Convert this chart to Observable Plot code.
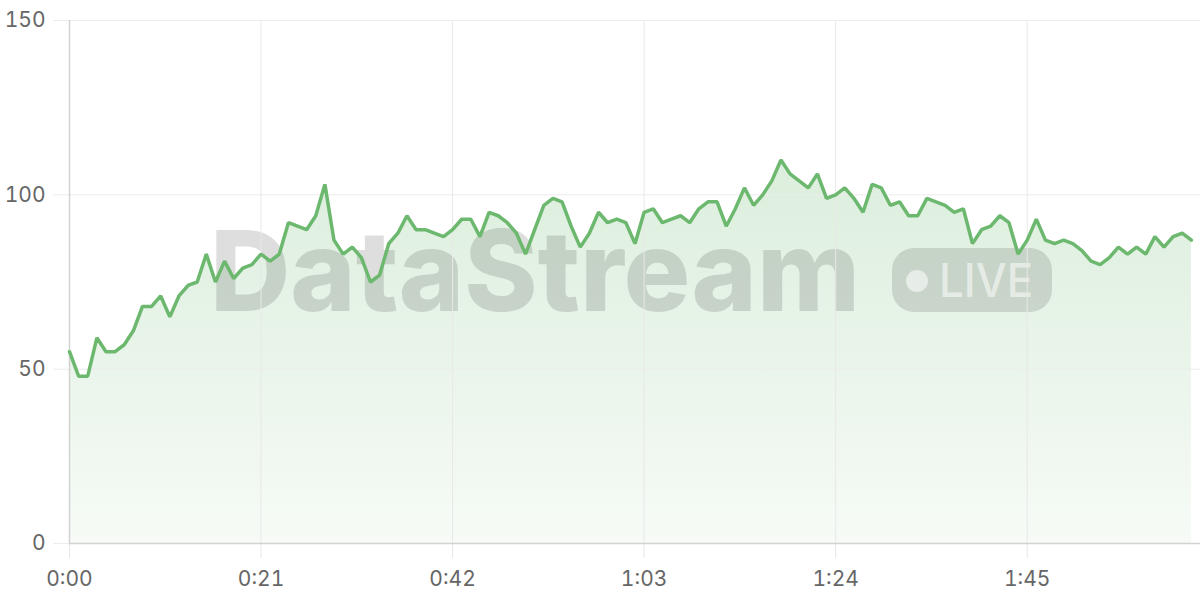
<!DOCTYPE html>
<html>
<head>
<meta charset="utf-8">
<script src="https://cdn.jsdelivr.net/npm/d3@7"></script>
<script src="https://cdn.jsdelivr.net/npm/@observablehq/plot@0.6"></script>
<style>
  body { margin: 0; background: #fff; }
  #chart svg { display: block; }
</style>
</head>
<body>
<div id="chart"></div>
<script>
// Values per second (t = 0 … 123 s)
const values = [
  55,48,48,59,55,55,57,61,68,68,71,65,71,74,75,83,75,81,76,79,80,
  83,81,83,92,91,90,94,103,87,83,85,82,75,77,86,89,94,90,90,89,88,
  90,93,93,88,95,94,92,89,83,90,97,99,98,91,85,89,95,92,93,92,86,
  95,96,92,93,94,92,96,98,98,91,96,102,97,100,104,110,106,104,102,106,99,
  100,102,99,95,103,102,97,98,94,94,99,98,97,95,96,86,90,91,94,92,83,
  87,93,87,86,87,86,84,81,80,82,85,83,85,83,88,85,88,89,87
];
const xTicks = [0, 21, 42, 63, 84, 105];
const yTicks = [0, 50, 100, 150];
const watermarkText = "DataStream";
const badgeText = "LIVE";

const data = values.map((v, i) => ({t: i, v}));
const fmt = d => `${Math.floor(d / 60)}:${String(d % 60).padStart(2, "0")}`;

const lineColor = "#6cb86f";

function watermark() {
  const g = d3.create("svg:g").attr("text-anchor", "start").attr("pointer-events", "none");
  g.append("text")
    .attr("x", 210).attr("y", 311)
    .attr("text-anchor", "start")
    .attr("font-family", "Inter, 'Open Sans', sans-serif")
    .attr("font-weight", 800)
    .attr("font-size", 112)
    .attr("textLength", 650)
    .attr("lengthAdjust", "spacingAndGlyphs")
    .attr("fill", "#000").attr("fill-opacity", 0.13)
    .text(watermarkText);
  g.append("rect")
    .attr("x", 892).attr("y", 248).attr("width", 160).attr("height", 64)
    .attr("rx", 22)
    .attr("fill", "#000").attr("fill-opacity", 0.12);
  g.append("circle")
    .attr("cx", 917).attr("cy", 281).attr("r", 11)
    .attr("fill", "#fff").attr("fill-opacity", 0.55);
  g.append("text")
    .attr("x", 939).attr("y", 297)
    .attr("text-anchor", "start")
    .attr("font-family", "Inter, 'Open Sans', sans-serif")
    .attr("font-weight", 500)
    .attr("font-size", 46)
    .attr("textLength", 94)
    .attr("lengthAdjust", "spacingAndGlyphs")
    .attr("fill", "#fff").attr("fill-opacity", 0.55)
    .text(badgeText);
  return g.node();
}

const plot = Plot.plot({
  width: 1200,
  height: 600,
  marginLeft: 69,
  marginRight: 0,
  marginTop: 20,
  marginBottom: 57,
  style: {fontFamily: "Inter, sans-serif", fontSize: "21px", color: "#666", background: "#fff"},
  x: {domain: [0, 124]},
  y: {domain: [0, 150]},
  marks: [
    Plot.areaY(data, {x: "t", y: "v", fill: "url(#areaGrad)"}),
    watermark,
    Plot.gridX(xTicks, {stroke: "#e8e8e8", strokeOpacity: 1}),
    Plot.gridY(yTicks, {stroke: "#ececec", strokeOpacity: 1}),
    Plot.axisX(xTicks, {tickSize: 15, tickPadding: 13, tickFormat: fmt, stroke: "#e6e6e6", fill: "#666", label: null}),
    Plot.axisY(yTicks, {tickSize: 16, tickPadding: 8, stroke: "#ececec", fill: "#666", label: null}),
    Plot.ruleY([0], {stroke: "#d2d2d2", strokeWidth: 1.5}),
    Plot.ruleX([0], {stroke: "#d2d2d2", strokeWidth: 1.5}),
    Plot.lineY(data, {x: "t", y: "v", stroke: lineColor, strokeWidth: 3.5, strokeLinejoin: "miter"})
  ]
});

const svg = d3.select(plot);
const defs = svg.insert("defs", ":first-child");
const grad = defs.append("linearGradient")
  .attr("id", "areaGrad").attr("x1", 0).attr("y1", 0).attr("x2", 0).attr("y2", 1);
grad.append("stop").attr("offset", "0%").attr("stop-color", lineColor).attr("stop-opacity", 0.24);
grad.append("stop").attr("offset", "100%").attr("stop-color", lineColor).attr("stop-opacity", 0.06);

document.getElementById("chart").appendChild(plot);
</script>
</body>
</html>
